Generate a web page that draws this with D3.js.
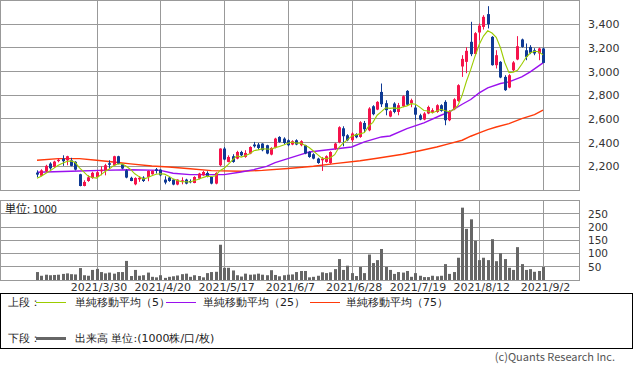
<!DOCTYPE html>
<html>
<head>
<meta charset="utf-8">
<title>株価チャート</title>
<script src="https://d3js.org/d3.v7.min.js"></script>
<style>
  body { margin: 0; background: #fff; }
  svg text { font-family: "DejaVu Sans", sans-serif; }
  .jp { font-family: "Noto Sans CJK JP", sans-serif; }
</style>
</head>
<body>
<svg id="chart" width="633" height="372"></svg>
<script>
// daily candles, 2021/3/10 .. 2021/9/2 (120 sessions)
var opens = [2147,2120,2158,2223,2196,2244,2265,2251,2251,2238,
  2133,2034,2076,2101,2110,2158,2166,2226,2209,2285,
  2217,2166,2103,2048,2090,2105,2110,2133,2175,2172,
  2088,2105,2088,2046,2074,2088,2076,2059,2096,2124,
  2144,2110,2054,2209,2350,2237,2285,2265,2321,2279,
  2308,2384,2384,2392,2378,2299,2358,2448,2434,2420,
  2384,2420,2378,2378,2321,2302,2265,2251,2237,2228,
  2350,2403,2521,2462,2420,2471,2448,2566,2504,2707,
  2679,2828,2733,2620,2730,2659,2707,2837,2733,2696,
  2631,2595,2646,2659,2659,2716,2744,2589,2682,2752,
  3043,3082,3251,3149,3330,3377,3485,3293,3054,3082,
  2955,2865,3011,3102,3271,3180,3208,3180,3153,3195];
var highs = [2166,2175,2213,2234,2247,2268,2293,2289,2272,2243,
  2137,2082,2124,2154,2160,2200,2221,2251,2289,2289,
  2221,2175,2112,2107,2116,2116,2166,2166,2186,2175,
  2116,2112,2090,2090,2107,2095,2090,2116,2145,2162,
  2158,2116,2150,2352,2363,2293,2302,2331,2331,2336,
  2369,2406,2397,2395,2382,2361,2441,2454,2445,2428,
  2420,2428,2420,2382,2327,2310,2272,2279,2293,2327,
  2399,2538,2538,2471,2488,2479,2581,2583,2699,2716,
  2750,2899,2758,2674,2741,2735,2800,2843,2771,2716,
  2644,2657,2712,2690,2724,2724,2758,2674,2775,2893,
  3138,3206,3420,3333,3406,3476,3552,3299,3180,3088,
  2969,2978,3088,3299,3278,3237,3223,3197,3202,3202];
var lows = [2107,2116,2150,2171,2188,2234,2204,2209,2200,2166,
  2031,2031,2069,2095,2101,2124,2124,2179,2204,2217,
  2175,2099,2074,2040,2069,2068,2074,2129,2139,2116,
  2048,2069,2040,2040,2048,2048,2057,2057,2090,2120,
  2107,2048,2048,2200,2251,2234,2230,2259,2285,2272,
  2302,2358,2341,2327,2302,2293,2352,2399,2386,2369,
  2378,2378,2369,2302,2272,2259,2221,2161,2230,2221,
  2340,2395,2369,2412,2403,2437,2441,2490,2496,2631,
  2674,2701,2631,2614,2648,2631,2699,2712,2699,2589,
  2589,2589,2640,2648,2652,2661,2547,2581,2674,2745,
  2955,2986,3130,3147,3265,3355,3364,3050,3026,2944,
  2837,2859,3003,3096,3202,3096,3147,3138,3096,3071];
var closes = [2130,2166,2204,2183,2240,2255,2243,2285,2204,2172,
  2034,2068,2107,2145,2150,2171,2209,2213,2285,2221,
  2181,2105,2076,2101,2103,2076,2161,2161,2161,2124,
  2063,2076,2046,2088,2082,2054,2068,2110,2139,2152,
  2116,2054,2144,2350,2257,2279,2237,2321,2293,2313,
  2363,2369,2355,2336,2308,2355,2434,2406,2397,2378,
  2412,2384,2412,2308,2279,2265,2228,2265,2285,2321,
  2392,2530,2454,2420,2477,2445,2572,2513,2688,2640,
  2744,2724,2674,2665,2659,2716,2792,2720,2758,2636,
  2595,2646,2701,2674,2716,2668,2589,2659,2766,2885,
  3107,3175,3147,3324,3388,3462,3400,3054,3138,2950,
  2843,2969,3077,3214,3208,3124,3158,3153,3195,3073];
// volume, 1000 shares
var volumes = [30,16,20,18,19,20,23,25,22,21,
  45,18,16,38,42,30,25,28,24,30,
  30,72,15,38,16,18,28,12,10,18,
  8,12,14,17,22,24,12,18,15,10,
  26,30,31,133,46,46,36,18,13,24,
  20,21,24,20,18,37,19,14,18,20,
  21,30,34,34,10,12,16,29,26,29,
  41,79,38,54,26,15,49,26,96,64,
  75,117,49,38,23,30,28,34,12,26,
  16,11,11,16,14,16,60,23,30,84,
  273,193,229,148,75,84,75,154,71,101,
  79,46,38,124,60,38,41,31,34,49];
// the 4 closes before the window (only seen through the 5 day line)
var leadCloses = [2080, 2090, 2075, 2120];
// 25 and 75 day lines, read at some sessions
var ma25Idx = [0,10,15,22,29,32,36,44,48,51,54,56,59,62,64,71,74,77,81,83,87,91,95,97,100,102,104,106,109,111,114,116,119];
var ma25Val = [2150,2161,2166,2171,2166,2141,2130,2130,2152,2172,2200,2231,2265,2299,2321,2350,2363,2406,2448,2456,2519,2566,2631,2659,2724,2764,2820,2862,2899,2913,2955,2997,3073];
var ma75Idx = [0,5,10,14,18,22,27,31,36,41,48,53,59,65,70,76,80,86,90,94,97,100,102,104,106,108,111,114,117,119];
var ma75Val = [2251,2265,2265,2251,2237,2221,2203,2194,2179,2164,2158,2166,2181,2200,2223,2247,2268,2302,2331,2363,2392,2420,2454,2482,2510,2532,2561,2603,2637,2674];

var tickIdx = [14,29,44,59,74,89,104,119];
var tickLabels = ["2021/3/30","2021/4/20","2021/5/17","2021/6/7","2021/6/28","2021/7/19","2021/8/12","2021/9/2"];
var priceTicks = [2200,2400,2600,2800,3000,3200,3400];
var volTicks = [50,100,150,200,250];

var svg = d3.select("#chart");
var gridColor = "#999";
var upColor = "#f5134b", downColor = "#0f3a94";
var panelL = 0.5, panelR = 579.5;

var x = d3.scaleLinear().domain([0, 119]).range([37, 543]);
var y = d3.scaleLinear().domain([2000, 3600]).range([190, 0.5]);
var yv = d3.scaleLinear().domain([0, 300]).range([280, 200.5]);
function px(v) { return Math.round(v) + 0.5; }

// ---- grids ----
function panel(top, bottom, hLines) {
  var g = svg.append("g").attr("stroke", gridColor).attr("stroke-width", 1).attr("fill", "none");
  g.selectAll("line.h").data(hLines).enter().append("line")
    .attr("x1", panelL).attr("x2", panelR)
    .attr("y1", function(d) { return px(d); }).attr("y2", function(d) { return px(d); });
  g.selectAll("line.v").data(tickIdx).enter().append("line")
    .attr("x1", function(d) { return px(x(d)); }).attr("x2", function(d) { return px(x(d)); })
    .attr("y1", top).attr("y2", bottom);
  g.append("rect").attr("x", panelL).attr("y", top)
    .attr("width", panelR - panelL).attr("height", bottom - top);
}
panel(0.5, 190.5, priceTicks.map(function(d) { return y(d) - 0.5; }));
panel(200.5, 280.5, volTicks.map(function(d) { return yv(d) - 0.5; }));

// ---- axes ----
var ay = svg.append("g").attr("transform", "translate(584,0)")
  .call(d3.axisRight(y).tickValues(priceTicks).tickFormat(d3.format(",")).tickSize(0).tickPadding(4));
var av = svg.append("g").attr("transform", "translate(584,0)")
  .call(d3.axisRight(yv).tickValues(volTicks).tickSize(0).tickPadding(4));
var ax = svg.append("g").attr("transform", "translate(2,280)")
  .call(d3.axisBottom(x).tickValues(tickIdx).tickFormat(function(d, i) { return tickLabels[i]; })
    .tickSize(0).tickPadding(3));
[ay, av, ax].forEach(function(a) {
  a.select(".domain").remove();
  a.selectAll("text").attr("fill", "#333").attr("font-size", 11)
    .attr("font-family", "DejaVu Sans");
});
av.selectAll("text").attr("font-size", 10.5);

svg.append("text").attr("class", "jp").attr("x", 5).attr("y", 213)
  .attr("font-size", 11).attr("fill", "#222").text("単位: 1000");

// ---- moving averages ----
var line = d3.line().x(function(d) { return x(d[0]); }).y(function(d) { return y(d[1]); });
var allCloses = leadCloses.concat(closes);
var ma5 = closes.map(function(c, i) {
  return [i, d3.mean(allCloses.slice(i, i + 5))];
});
svg.append("path").datum(ma75Idx.map(function(d, i) { return [d, ma75Val[i]]; }))
  .attr("d", line).attr("fill", "none").attr("stroke", "#ff3a0a").attr("stroke-width", 1.4);
svg.append("path").datum(ma25Idx.map(function(d, i) { return [d, ma25Val[i]]; }))
  .attr("d", line).attr("fill", "none").attr("stroke", "#9a10ee").attr("stroke-width", 1.4);

// ---- candles ----
var cg = svg.append("g");
closes.forEach(function(c, i) {
  var o = opens[i], cx = Math.round(x(i));
  var col = c >= o ? upColor : downColor;
  cg.append("line").attr("x1", cx + 0.5).attr("x2", cx + 0.5)
    .attr("y1", y(highs[i])).attr("y2", y(lows[i]))
    .attr("stroke", col).attr("stroke-width", 1);
  var top = y(Math.max(o, c)), h = Math.max(1.2, y(Math.min(o, c)) - top);
  cg.append("rect").attr("x", cx - 1).attr("y", top).attr("width", 3).attr("height", h)
    .attr("fill", col);
});

svg.append("path").datum(ma5).attr("d", line).attr("fill", "none")
  .attr("stroke", "#9ccc00").attr("stroke-width", 1.1);

// ---- volume ----
svg.append("g").selectAll("rect").data(volumes).enter().append("rect")
  .attr("x", function(d, i) { return Math.round(x(i)) - 1; })
  .attr("y", function(d) { return yv(d); })
  .attr("width", 3)
  .attr("height", function(d) { return yv(0) - yv(d); })
  .attr("fill", "#666");

// ---- legend ----
svg.append("rect").attr("x", 0.5).attr("y", 293.5).attr("width", 632).attr("height", 55)
  .attr("fill", "none").attr("stroke", "#000").attr("stroke-width", 1);
var legendItems = [
  { lx: 36, tx: 75, color: "#9ccc00", label: "単純移動平均（5）" },
  { lx: 166, tx: 203, color: "#9a10ee", label: "単純移動平均（25）" },
  { lx: 310, tx: 346, color: "#ff3a0a", label: "単純移動平均（75）" }
];
var lg = svg.append("g").attr("class", "jp").attr("font-size", 11).attr("fill", "#222");
lg.append("text").attr("x", 8).attr("y", 306).text("上段：");
legendItems.forEach(function(d) {
  lg.append("line").attr("x1", d.lx).attr("x2", d.lx + 30).attr("y1", 302.5).attr("y2", 302.5)
    .attr("stroke", d.color).attr("stroke-width", 1);
  lg.append("text").attr("x", d.tx).attr("y", 306).text(d.label);
});
lg.append("text").attr("x", 8).attr("y", 342).text("下段：");
lg.append("line").attr("x1", 36).attr("x2", 66).attr("y1", 338.5).attr("y2", 338.5)
  .attr("stroke", "#666").attr("stroke-width", 3);
lg.append("text").attr("x", 75).attr("y", 342).text("出来高 単位:(1000株/口/枚)");

svg.append("text").attr("class", "jp").attr("x", 615).attr("y", 361)
  .attr("text-anchor", "end").attr("font-size", 11).attr("fill", "#555")
  .text("(c)Quants Research Inc.");
</script>
</body>
</html>
